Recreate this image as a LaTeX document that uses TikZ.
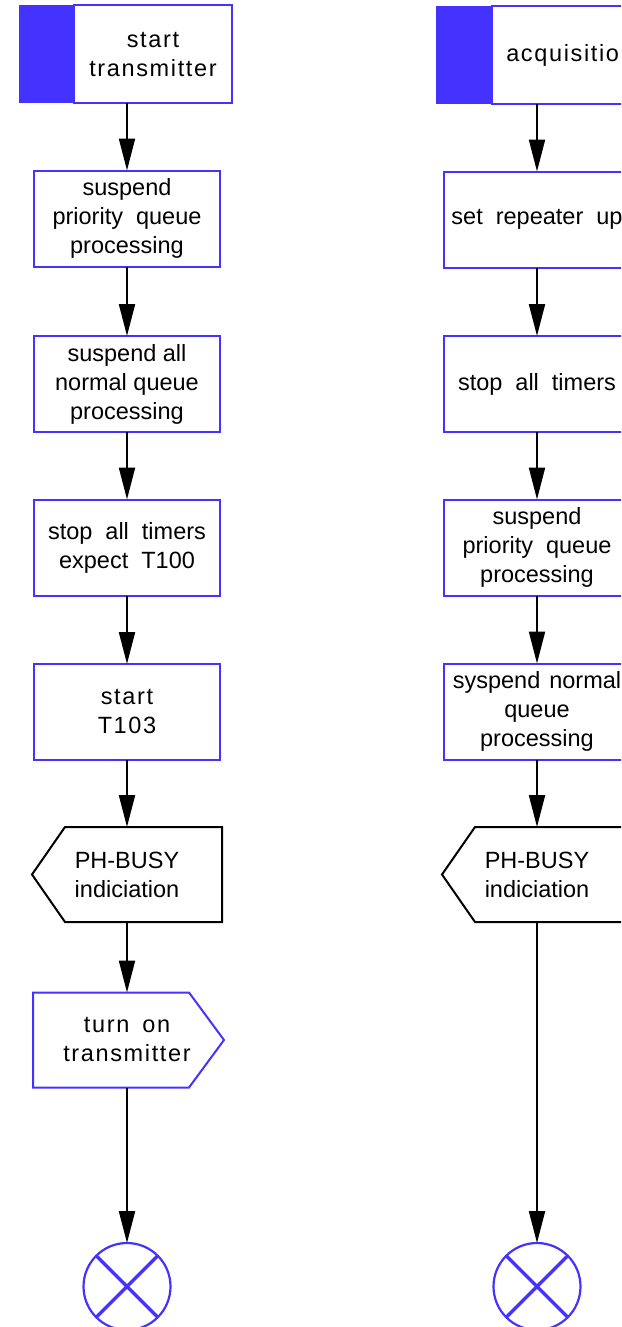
\documentclass[tikz,border=0pt]{standalone}
\usepackage{fontspec}
\setmainfont{Liberation Sans}
\newfontfamily\lsfont[LetterSpace=7]{Liberation Sans}
\usetikzlibrary{arrows.meta,calc}
\definecolor{sdlblue}{RGB}{68,51,255}
\newcommand\wsp{\spaceskip=13pt\relax}
\newcommand\msp{\spaceskip=9pt\relax}
\begin{document}
\begin{tikzpicture}[x=1pt,y=-1pt,
  txt/.style={font=\fontsize{23.5}{29}\selectfont},
  box/.style={txt,draw=sdlblue,line width=2pt,fill=white,minimum width=186pt,minimum height=96pt,inner sep=0pt,outer sep=0pt,align=center},
  blueblock/.style={fill=sdlblue,minimum width=55pt,minimum height=98pt,inner sep=0pt,outer sep=0pt},
  startbox/.style={box,minimum width=158pt,minimum height=98pt},
  spaced/.style={font=\fontsize{23.5}{29}\lsfont},
  shapetext/.style={txt,minimum width=190pt,minimum height=95pt,inner sep=0pt,outer sep=0pt,align=center},
  blkline/.style={draw=black,line width=2pt,line join=miter},
  blueline/.style={draw=sdlblue,line width=2pt,line join=miter},
  endc/.style={circle,draw=sdlblue,line width=2.2pt,minimum size=87pt,inner sep=0pt,outer sep=0pt},
  xline/.style={draw=sdlblue,line width=3.5pt},
  arr/.style={draw=black,line width=2pt,-{Triangle[length=32pt,width=16pt]}}
]
\useasboundingbox (0,0) rectangle (621,1327);
\clip (0,0) rectangle (621,1327);

% ---------------- left column ----------------
\node[blueblock] (sLb) at (46.5,54.5) {};
\node[startbox,spaced] (sL) at (153,54.5) {start\\transmitter};
\node[box] (l2) at (127,218.5) {suspend\\{\wsp priority queue}\\processing};
\node[box] (l3) at (127,384) {suspend all\\normal queue\\processing};
\node[box] (l4) at (127,547.5) {{\wsp stop all timers}\\{\wsp expect T100}};
\node[box,spaced] (l5) at (127,712) {start\\T103};
\node[shapetext] (l6) at (127,874.5) {PH-BUSY\\indiciation};
\draw[blkline] (l6.west) -- ($(l6.north west)+(33,0)$) -- (l6.north east) -- (l6.south east) -- ($(l6.south west)+(33,0)$) -- cycle;
\node[shapetext,minimum width=188pt,spaced] (l7) at (127,1040) {{\wsp turn on}\\transmitter};
\draw[blueline] (l7.north west) -- ($(l7.north west)+(156,0)$) -- ($(l7.east)+(3,0)$) -- ($(l7.south west)+(156,0)$) -- (l7.south west) -- cycle;
\node[endc] (l8) at (127,1286.5) {};
\draw[xline] (l8.north west) -- (l8.south east);
\draw[xline] (l8.north east) -- (l8.south west);

\draw[arr] (sL.south -| l2.north) -- (l2.north);
\draw[arr] (l2.south) -- (l3.north);
\draw[arr] (l3.south) -- (l4.north);
\draw[arr] (l4.south) -- (l5.north);
\draw[arr] (l5.south) -- (l6.north);
\draw[arr] (l6.south) -- (l7.north);
\draw[arr] (l7.south) -- (l8.north);

% ---------------- right column ----------------
\node[blueblock,minimum width=56pt] (rSb) at (464,55) {};
\node[startbox,minimum width=156pt,spaced] (rS) at (570,55) {acquisition};
\node[box] (r2) at (537,219.5) {{\wsp set repeater up}};
\node[box] (r3) at (537,384) {{\wsp stop all timers}};
\node[box] (r4) at (537,547.5) {suspend\\{\wsp priority queue}\\processing};
\node[box] (r5) at (537,711.5) {{\msp syspend normal}\\queue\\processing};
\node[shapetext] (r6) at (537,874.5) {PH-BUSY\\indiciation};
\draw[blkline] (r6.west) -- ($(r6.north west)+(33,0)$) -- (r6.north east) -- (r6.south east) -- ($(r6.south west)+(33,0)$) -- cycle;
\node[endc] (r8) at (537,1286.5) {};
\draw[xline] (r8.north west) -- (r8.south east);
\draw[xline] (r8.north east) -- (r8.south west);

\draw[arr] (rS.south -| r2.north) -- (r2.north);
\draw[arr] (r2.south) -- (r3.north);
\draw[arr] (r3.south) -- (r4.north);
\draw[arr] (r4.south) -- (r5.north);
\draw[arr] (r5.south) -- (r6.north);
\draw[arr] (r6.south) -- (r8.north);
\end{tikzpicture}
\end{document}
